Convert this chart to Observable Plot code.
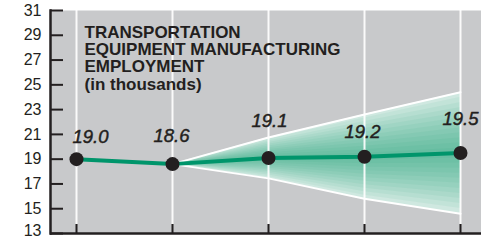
<!DOCTYPE html>
<html>
<head>
<meta charset="utf-8">
<script src="https://cdn.jsdelivr.net/npm/d3@7"></script>
<script src="https://cdn.jsdelivr.net/npm/@observablehq/plot@0.6"></script>
<style>
  html, body { margin: 0; padding: 0; background: #ffffff; }
  #chart { width: 481px; height: 240px; }
</style>
</head>
<body>
<div id="chart"></div>
<script>
// ---- data ----
const periods = [0, 1, 2, 3, 4];
const values = [19.0, 18.6, 19.1, 19.2, 19.5];
const valueLabels = ["19.0", "18.6", "19.1", "19.2", "19.5"];
const fanSpread = [null, 0, 1.65, 3.4, 4.9]; // +/- range of forecast fan
const yTicks = [13, 15, 17, 19, 21, 23, 25, 27, 29, 31];
const titleLines = ["TRANSPORTATION", "EQUIPMENT MANUFACTURING", "EMPLOYMENT", "(in thousands)"];

// ---- derived tables ----
const points = periods.map((p, i) => ({p, v: values[i], label: valueLabels[i]}));
const fanRows = periods
  .map((p, i) => ({p, v: values[i], s: fanSpread[i]}))
  .filter(d => d.s != null);
const yMin = d3.min(yTicks);

// ---- layout / style ----
const dark = "#231f20";
const grey = "#c8c9cb";
const green = "#00956b";
const labelDx = [14, -1, 1, -2, 0];
const labelDy = [-22, -28, -37, -25, -34];
const bands = 12;

const fanBands = d3.range(bands, 0, -1).map(k =>
  Plot.areaY(fanRows, {
    x: "p",
    y1: d => d.v - d.s * k / bands,
    y2: d => d.v + d.s * k / bands,
    fill: green,
    fillOpacity: 0.06
  })
);

const labelMarks = points.map((d, i) =>
  Plot.text([d], {
    x: "p", y: "v", text: "label",
    dx: labelDx[i], dy: labelDy[i],
    fontSize: 18.5, fontStyle: "italic", fill: dark,
    stroke: dark, strokeWidth: 0.45
  })
);

const chart = Plot.plot({
  width: 481,
  height: 240,
  marginLeft: 50,
  marginRight: 0,
  marginTop: 10,
  marginBottom: 7,
  style: {fontFamily: "'Liberation Sans', Arial, sans-serif", background: "#ffffff", overflow: "visible"},
  x: {type: "linear", domain: [0, 4], range: [76, 460], axis: null},
  y: {domain: [13, 31], axis: null},
  marks: [
    Plot.frame({fill: grey}),
    Plot.areaY(fanRows, {x: "p", y1: d => d.v - d.s, y2: d => d.v + d.s, fill: "#dcede8"}),
    ...fanBands,
    Plot.lineY(fanRows, {x: "p", y: d => d.v + d.s, stroke: "#ffffff", strokeWidth: 2}),
    Plot.lineY(fanRows, {x: "p", y: d => d.v - d.s, stroke: "#ffffff", strokeWidth: 2}),
    Plot.ruleX(periods, {x: d => d, y1: 31, y2: 13, insetBottom: 9, stroke: "#ffffff", strokeWidth: 2, strokeOpacity: 0.9}),
    Plot.axisX({ticks: periods, tickSize: -9, tickFormat: () => "", label: null, stroke: dark, strokeWidth: 2}),
    Plot.axisY({ticks: yTicks, tickSize: -13, fontSize: 16, label: null, color: dark, strokeWidth: 2,
      tickFormat: d => d === yMin ? "" : String(d)}),
    Plot.axisY({ticks: [yMin], tickSize: 0, tickPadding: 9, dy: -3, fontSize: 16, label: null, color: dark}),
    Plot.frame({anchor: "left", stroke: dark, strokeWidth: 2.5}),
    Plot.ruleY([13], {stroke: dark, strokeWidth: 2.5}),
    Plot.lineY(points, {x: "p", y: "v", stroke: green, strokeWidth: 4}),
    Plot.dot(points, {x: "p", y: "v", r: 7, fill: dark}),
    ...labelMarks,
    Plot.text([titleLines.join("\n")], {
      frameAnchor: "top-left", dx: 34, dy: 15,
      textAnchor: "start", lineAnchor: "top",
      fontSize: 17, fontWeight: "bold", lineHeight: 1.02, fill: dark
    })
  ]
});
document.getElementById("chart").appendChild(chart);
</script>
</body>
</html>
